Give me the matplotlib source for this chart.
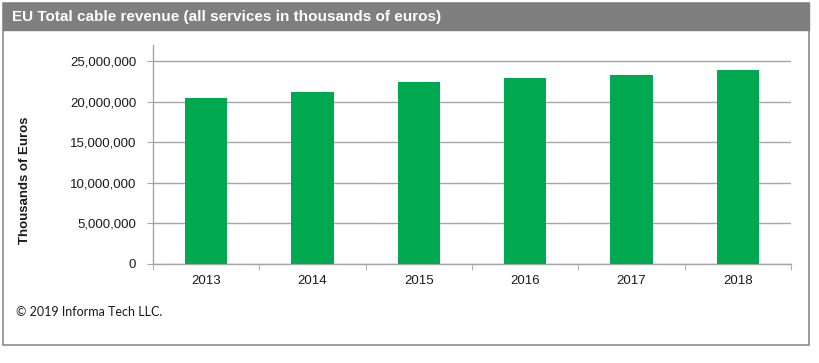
import matplotlib
matplotlib.use('Agg')
import matplotlib.pyplot as plt
from matplotlib.patches import Rectangle
from matplotlib.ticker import FuncFormatter, FixedLocator

# Data
years = ['2013', '2014', '2015', '2016', '2017', '2018']
revenue = [20.45e6, 21.19e6, 22.42e6, 22.87e6, 23.36e6, 23.93e6]
y_ticks = [0, 5e6, 10e6, 15e6, 20e6, 25e6]

title = 'EU Total cable revenue (all services in thousands of euros)'
y_label = 'Thousands of Euros'
credit = '\u00a9 2019 Informa Tech LLC.'

W, H = 819, 363


def fx(px):
    return px / W


def fy(py):
    return 1 - py / H


def main():
    plt.rcParams['font.family'] = ['Liberation Sans', 'DejaVu Sans']
    fig = plt.figure(figsize=(W / 100, H / 100), dpi=100)

    # Outer box and title bar
    fig.patches.append(Rectangle((fx(3), fy(345)), fx(809) - fx(3), fy(3) - fy(345),
                                 transform=fig.transFigure, fill=False,
                                 edgecolor='#8c8c8c', linewidth=1.2))
    fig.patches.append(Rectangle((fx(3), fy(30)), fx(809) - fx(3), fy(3) - fy(30),
                                 transform=fig.transFigure, facecolor='#7f7f7f',
                                 edgecolor='#7f7f7f', linewidth=1))
    fig.text(fx(12), fy(17), title, color='white', fontsize=11, fontweight='bold',
             family=['Liberation Sans Narrow', 'Liberation Sans', 'DejaVu Sans'],
             va='center', ha='left')

    ax = fig.add_axes([fx(153), fy(264), fx(791) - fx(153), fy(45) - fy(264)])
    x = list(range(len(years)))
    ax.bar(x, revenue, width=0.4, color='#00a84f', zorder=3)

    ax.set_xlim(-0.5, len(years) - 0.5)
    ax.set_ylim(0, 27e6)
    ax.set_yticks(y_ticks)
    ax.yaxis.set_major_formatter(FuncFormatter(lambda v, p: f'{int(v):,}'))
    ax.grid(axis='y', color='#a6a6a6', linewidth=1, zorder=0)

    ax.set_xticks(x)
    ax.set_xticklabels(years)
    ax.xaxis.set_minor_locator(FixedLocator([i - 0.5 for i in range(len(years) + 1)]))
    ax.tick_params(axis='x', which='major', length=0, pad=8, labelsize=9.5, colors='#1a1a1a')
    ax.tick_params(axis='x', which='minor', length=4, color='#a6a6a6', direction='out')
    ax.tick_params(axis='y', length=4, color='#a6a6a6', pad=8, labelsize=9.5, labelcolor='#1a1a1a')

    for side in ['top', 'right']:
        ax.spines[side].set_visible(False)
    for side in ['left', 'bottom']:
        ax.spines[side].set_color('#a6a6a6')
        ax.spines[side].set_linewidth(1)

    fig.text(fx(25), fy(180), y_label, rotation=90, fontsize=9.5, fontweight='bold',
             va='center', ha='center', color='#1a1a1a')

    fig.text(fx(16), fy(312), credit, fontsize=9,
             family=['Liberation Sans Narrow', 'Lato', 'DejaVu Sans'],
             va='center', ha='left', color='#1a1a1a')

    fig.savefig('out.png', dpi=100)
    return 0


if __name__ == '__main__':
    exit(main())
